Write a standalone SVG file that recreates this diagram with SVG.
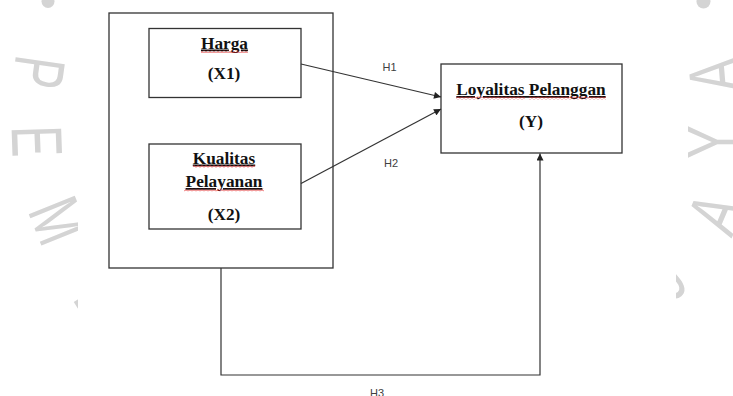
<svg xmlns="http://www.w3.org/2000/svg" width="733" height="396" viewBox="0 0 733 396">
<defs>
<style>
.box{fill:#fff;stroke:#333;stroke-width:1.3}
.lbl{font-family:"Liberation Serif","Times New Roman",serif;font-weight:bold;font-size:17.3px;fill:#111;text-anchor:middle}
.ul{text-decoration:underline}
.wv{fill:url(#wavy)}
.h{font-family:"Liberation Sans",Arial,sans-serif;font-size:11px;fill:#404040;text-anchor:middle}
.conn{fill:none;stroke:#333;stroke-width:1.2}
.wm{font-family:"Liberation Sans",Arial,sans-serif;font-size:72px;fill:#d4d4d4;text-anchor:middle}
.dot{fill:#d4d4d4}
</style>
<marker id="arr" viewBox="0 0 10 10" refX="10" refY="5" markerWidth="8" markerHeight="7" markerUnits="userSpaceOnUse" orient="auto"><path d="M0,0 L10,5 L0,10 z" fill="#222"/></marker>
<pattern id="wavy" width="4" height="3" patternUnits="userSpaceOnUse"><path d="M0 2.5 L2 0.5 L4 2.5" fill="none" stroke="#e02020" stroke-width="0.9"/></pattern>
<clipPath id="cl"><rect x="0" y="0" width="78" height="396"/></clipPath>
<clipPath id="cr"><rect x="676" y="0" width="57" height="396"/></clipPath>
</defs>
<rect width="733" height="396" fill="#fff"/>
<g id="watermark-left" clip-path="url(#cl)">
<circle class="dot" cx="48" cy="1.5" r="6.5"/>
<text class="wm" transform="translate(14,69) rotate(98) scale(0.65,1)">P</text>
<text class="wm" transform="translate(12,142) rotate(88) scale(0.65,1)">E</text>
<text class="wm" transform="translate(35,230) rotate(68) scale(0.7,1)">M</text>
<text class="wm" transform="translate(80,312) rotate(58) scale(0.65,1)">B</text>
</g>
<g id="watermark-right" clip-path="url(#cr)">
<circle class="dot" cx="703.5" cy="1.5" r="7"/>
<text class="wm" transform="translate(739,73) rotate(-95) scale(0.7,1)">A</text>
<text class="wm" transform="translate(738,142) rotate(-90) scale(0.7,1)">Y</text>
<text class="wm" transform="translate(738,223) rotate(-67) scale(0.7,1)">A</text>
<text class="wm" transform="translate(682,295) rotate(-40) scale(0.7,1)">J</text>
</g>
<g id="group-x">
<rect class="box" x="109" y="13" width="224" height="255"/>
</g>
<g id="node-x1">
<rect class="box" x="149" y="28.5" width="152" height="69"/>
<text class="lbl ul" x="224.5" y="48.5">Harga</text>
<rect class="wv" x="201" y="50" width="47" height="3"/>
<text class="lbl" x="224" y="79">(X1)</text>
</g>
<g id="node-x2">
<rect class="box" x="149" y="144" width="152" height="85"/>
<text class="lbl ul" x="224" y="163.5">Kualitas</text>
<rect class="wv" x="193" y="165" width="62" height="3"/>
<text class="lbl ul" x="224" y="187">Pelayanan</text>
<rect class="wv" x="184" y="188.5" width="80" height="3"/>
<text class="lbl" x="224" y="219.5">(X2)</text>
</g>
<g id="node-y">
<rect class="box" x="441" y="64" width="181" height="89"/>
<text class="lbl ul" x="531" y="95">Loyalitas Pelanggan</text>
<rect class="wv" x="456" y="96.5" width="69" height="3"/>
<rect class="wv" x="529" y="96.5" width="77" height="3"/>
<text class="lbl" x="531" y="127">(Y)</text>
</g>
<g id="connectors">
<line class="conn" x1="301" y1="64" x2="441" y2="97" marker-end="url(#arr)"/>
<line class="conn" x1="301" y1="183.5" x2="441" y2="109" marker-end="url(#arr)"/>
<polyline class="conn" points="221,268 221,375 540,375 540,153.5" marker-end="url(#arr)"/>
<text class="h" x="389.5" y="70.5">H1</text>
<text class="h" x="391" y="166.5">H2</text>
<text class="h" x="377" y="397">H3</text>
</g>
</svg>
